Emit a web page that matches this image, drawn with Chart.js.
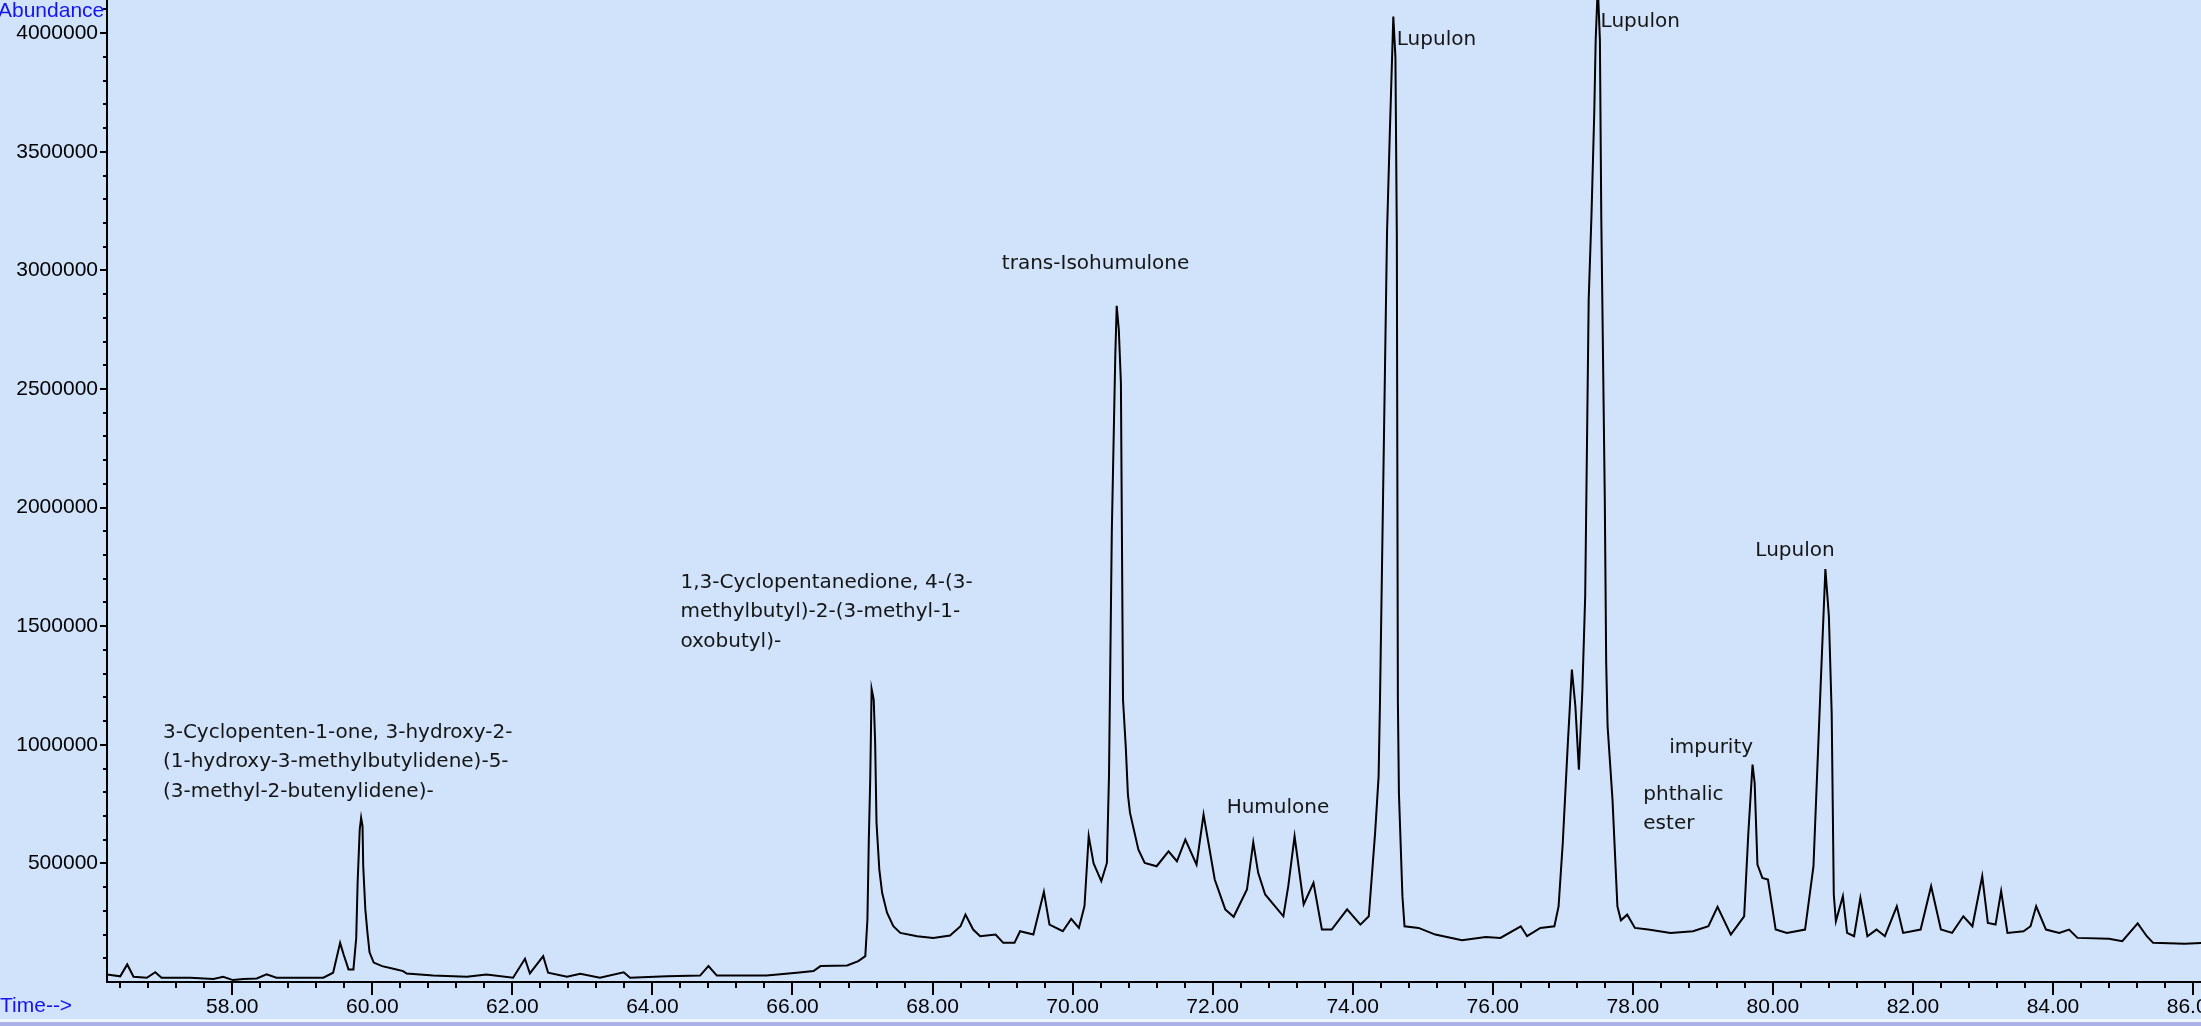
<!DOCTYPE html>
<html>
<head>
<meta charset="utf-8">
<title>Chromatogram</title>
<script src="https://cdn.jsdelivr.net/npm/chart.js@4.4.0/dist/chart.umd.min.js"></script>
<style>
  html, body { margin: 0; padding: 0; background: #d1e3fb; overflow: hidden; }
  #wrap { width: 2201px; height: 1026px; }
  #chart { display: block; }
  #band1 { height: 3px; background: #eef3fc; }
  #band2 { height: 4px; background: #a9b1e6; }
</style>
</head>
<body>
<div id="wrap">
  <canvas id="chart" width="2201" height="1019"></canvas>
  <div id="band1"></div>
  <div id="band2"></div>
</div>
<script>
// retention time (min) and abundance
const times = [
  56.21, 56.40, 56.50, 56.59, 56.78, 56.90, 56.99, 57.40, 57.73, 57.87,
  58.01, 58.16, 58.35, 58.49, 58.63, 59.00, 59.30, 59.44, 59.54, 59.59,
  59.66, 59.73, 59.77, 59.79, 59.82, 59.84, 59.86, 59.87, 59.90, 59.93,
  59.96, 60.02, 60.14, 60.30, 60.44, 60.49, 60.87, 61.35, 61.63, 62.01,
  62.18, 62.25, 62.44, 62.51, 62.78, 62.97, 63.25, 63.59, 63.68, 64.21,
  64.68, 64.80, 64.92, 65.63, 66.06, 66.30, 66.40, 66.78, 66.94, 67.04,
  67.07, 67.09, 67.11, 67.13, 67.16, 67.18, 67.20, 67.24, 67.28, 67.35,
  67.44, 67.54, 67.78, 68.01, 68.25, 68.40, 68.47, 68.58, 68.68, 68.90,
  69.01, 69.17, 69.25, 69.44, 69.59, 69.67, 69.86, 69.98, 70.09, 70.17,
  70.23, 70.30, 70.41, 70.49, 70.52, 70.56, 70.61, 70.63, 70.66, 70.69,
  70.72, 70.76, 70.79, 70.82, 70.94, 71.03, 71.20, 71.37, 71.49, 71.61,
  71.77, 71.87, 72.03, 72.18, 72.30, 72.49, 72.58, 72.65, 72.75, 73.01,
  73.08, 73.17, 73.30, 73.44, 73.56, 73.70, 73.92, 74.11, 74.23, 74.32,
  74.37, 74.39, 74.49, 74.53, 74.58, 74.61, 74.63, 74.645, 74.66, 74.71,
  74.74, 74.94, 75.18, 75.56, 75.90, 76.11, 76.40, 76.49, 76.68, 76.88,
  76.94, 77.00, 77.07, 77.13, 77.18, 77.23, 77.28, 77.32, 77.37, 77.41,
  77.45, 77.47, 77.50, 77.53, 77.55, 77.60, 77.62, 77.64, 77.71, 77.78,
  77.83, 77.92, 78.03, 78.22, 78.54, 78.86, 79.08, 79.21, 79.40, 79.59,
  79.65, 79.71, 79.74, 79.78, 79.85, 79.93, 80.04, 80.20, 80.46, 80.58,
  80.68, 80.75, 80.80, 80.84, 80.87, 80.90, 81.00, 81.06, 81.16, 81.25,
  81.35, 81.48, 81.60, 81.77, 81.86, 82.11, 82.26, 82.40, 82.56, 82.72,
  82.85, 82.99, 83.07, 83.18, 83.26, 83.35, 83.58, 83.68, 83.76, 83.90,
  84.09, 84.23, 84.35, 84.80, 84.99, 85.21, 85.34, 85.43, 85.88, 86.12
];
const abundance = [
  32000, 24000, 74000, 22000, 18000, 41000, 18000, 18000, 13000, 22000,
  8000, 13000, 15000, 32000, 18000, 18000, 18000, 39000, 165000, 116000,
  53000, 53000, 186000, 419000, 643000, 692000, 657000, 488000, 306000, 209000,
  125000, 82000, 67000, 56000, 46000, 36000, 27000, 22000, 32000, 18000,
  98000, 36000, 109000, 39000, 22000, 35000, 18000, 41000, 18000, 24000,
  27000, 67000, 27000, 27000, 39000, 46000, 67000, 70000, 88000, 109000,
  263000, 600000, 853000, 1235000, 1190000, 1015000, 671000, 474000, 376000, 292000,
  235000, 207000, 193000, 186000, 196000, 235000, 284000, 221000, 193000, 200000,
  165000, 165000, 214000, 200000, 380000, 242000, 214000, 266000, 228000, 320000,
  615000, 500000, 425000, 502000, 874000, 1900000, 2644000, 2851000, 2750000, 2525000,
  1190000, 987000, 790000, 713000, 558000, 502000, 488000, 551000, 509000, 600000,
  495000, 706000, 432000, 306000, 275000, 390000, 589000, 460000, 369000, 277000,
  404000, 614000, 327000, 418000, 221000, 221000, 306000, 242000, 277000, 629000,
  867000, 1190000, 3157000, 3579000, 4070000, 3901000, 3157000, 1190000, 797000, 362000,
  235000, 228000, 200000, 176000, 190000, 186000, 235000, 193000, 228000, 235000,
  319000, 587000, 994000, 1317000, 1162000, 895000, 1233000, 1626000, 2876000, 3234000,
  3670000, 3972000, 4200000, 3972000, 3220000, 2033000, 1345000, 1078000, 769000, 319000,
  260000, 284000, 228000, 221000, 207000, 214000, 235000, 317000, 200000, 277000,
  629000, 917000, 839000, 495000, 439000, 432000, 221000, 207000, 221000, 488000,
  1233000, 1741000, 1542000, 1134000, 369000, 256000, 362000, 207000, 193000, 355000,
  193000, 221000, 193000, 319000, 207000, 221000, 404000, 221000, 207000, 277000,
  235000, 446000, 249000, 242000, 383000, 207000, 214000, 235000, 319000, 221000,
  207000, 221000, 186000, 182000, 172000, 247000, 193000, 165000, 161000, 165000
];

// axis ticks
const xTickValues = [58, 60, 62, 64, 66, 68, 70, 72, 74, 76, 78, 80, 82, 84, 86];
const yTickValues = [500000, 1000000, 1500000, 2000000, 2500000, 3000000, 3500000, 4000000];

// peak names and where they sit (time, abundance of first line)
const peakNames = [
  ['3-Cyclopenten-1-one, 3-hydroxy-2-', '(1-hydroxy-3-methylbutylidene)-5-', '(3-methyl-2-butenylidene)-'],
  ['1,3-Cyclopentanedione, 4-(3-', 'methylbutyl)-2-(3-methyl-1-', 'oxobutyl)-'],
  ['trans-Isohumulone'],
  ['Humulone'],
  ['Lupulon'],
  ['Lupulon'],
  ['impurity'],
  ['phthalic', 'ester'],
  ['Lupulon']
];
const peakNameTimes = [57.01, 64.40, 68.99, 72.20, 74.63, 77.54, 78.52, 78.15, 79.75];
const peakNameAbund = [1051000, 1683000, 3028000, 733000, 3974000, 4046000, 986000, 790000, 1816000];

const xMin = 56.211, xMax = 86.114;
const yMin = 0, yMax = 4140000;

const points = times.map((t, i) => ({ x: t, y: abundance[i] }));

// small ticks + texts
const decor = {
  id: 'decor',
  afterDraw(chart) {
    const ctx = chart.ctx;
    const xs = chart.scales.x;
    const ys = chart.scales.y;
    const area = chart.chartArea;
    ctx.save();
    ctx.strokeStyle = '#000';
    ctx.lineWidth = 2;
    ctx.beginPath();
    for (let k = Math.ceil(xMin / 0.4); k * 0.4 <= xMax; k++) {
      if (k % 5 === 0) continue;
      const px = Math.round(xs.getPixelForValue(k * 0.4));
      ctx.moveTo(px, area.bottom);
      ctx.lineTo(px, area.bottom + 6);
    }
    for (let k = 1; k * 100000 <= yMax; k++) {
      if (k % 5 === 0) continue;
      const py = Math.round(ys.getPixelForValue(k * 100000));
      ctx.moveTo(area.left - 4, py);
      ctx.lineTo(area.left, py);
    }
    ctx.stroke();

    // axis titles
    ctx.fillStyle = '#1414f0';
    ctx.font = '21px "Liberation Sans", Arial, sans-serif';
    ctx.textBaseline = 'middle';
    ctx.textAlign = 'left';
    ctx.fillText('Abundance', -2, 11);
    ctx.fillText('Time-->', 0, 1006);

    // peak names
    ctx.fillStyle = '#151515';
    ctx.font = '20px "DejaVu Sans", sans-serif';
    peakNames.forEach((lines, i) => {
      const px = xs.getPixelForValue(peakNameTimes[i]);
      const py = ys.getPixelForValue(peakNameAbund[i]);
      lines.forEach((txt, j) => {
        ctx.fillText(txt, px, py + j * 29.5);
      });
    });
    ctx.restore();
  }
};

new Chart(document.getElementById('chart'), {
  type: 'line',
  data: {
    datasets: [{
      data: points,
      borderColor: '#000',
      borderWidth: 2,
      pointRadius: 0,
      tension: 0,
      fill: false
    }]
  },
  options: {
    responsive: false,
    animation: false,
    devicePixelRatio: 1,
    layout: { padding: 0 },
    plugins: {
      legend: { display: false },
      tooltip: { enabled: false }
    },
    scales: {
      x: {
        type: 'linear',
        min: xMin,
        max: xMax,
        afterBuildTicks: s => { s.ticks = xTickValues.map(v => ({ value: v })); },
        afterFit: s => { s.height = 37; s.paddingLeft = 0; s.paddingRight = 0; },
        border: { display: true, color: '#000', width: 2 },
        grid: { drawOnChartArea: false, drawTicks: true, tickLength: 13, color: '#000', lineWidth: 2 },
        ticks: {
          autoSkip: false,
          maxRotation: 0,
          padding: 0,
          color: '#000',
          font: { family: '"Liberation Sans", Arial, sans-serif', size: 21 },
          callback: v => Number(v).toFixed(2)
        }
      },
      y: {
        type: 'linear',
        min: yMin,
        max: yMax,
        afterBuildTicks: s => { s.ticks = yTickValues.map(v => ({ value: v })); },
        afterFit: s => { s.width = 107; s.paddingTop = 0; s.paddingBottom = 0; },
        border: { display: true, color: '#000', width: 2 },
        grid: { drawOnChartArea: false, drawTicks: true, tickLength: 7, color: '#000', lineWidth: 2 },
        ticks: {
          padding: 2,
          color: '#000',
          font: { family: '"Liberation Sans", Arial, sans-serif', size: 21 },
          callback: v => String(v)
        }
      }
    }
  },
  plugins: [decor]
});
</script>
</body>
</html>
